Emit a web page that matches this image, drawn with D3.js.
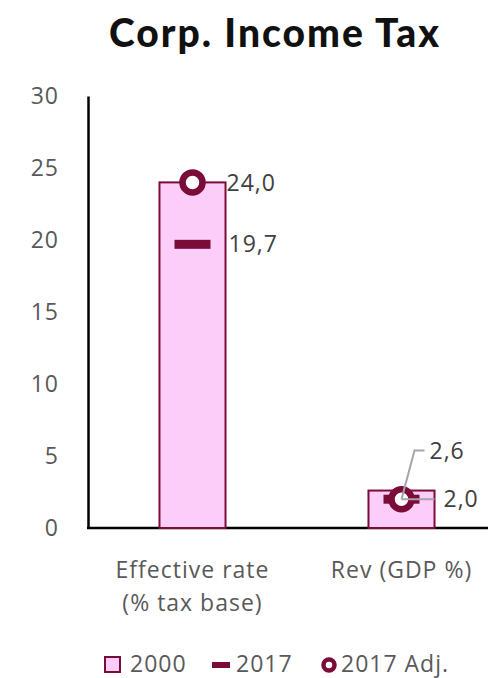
<!DOCTYPE html>
<html>
<head>
<meta charset="utf-8">
<script src="https://cdn.jsdelivr.net/npm/d3@7"></script>
<style>
  html, body { margin: 0; padding: 0; background: #fff; }
  svg { display: block; }
  .tick text, .cat-label, .val-label, .legend text {
    font-family: "Open Sans", Lato, sans-serif; font-size: 23px; letter-spacing: 1px;
  }
  .tick text, .cat-label, .legend text { fill: #595959; }
  .val-label { fill: #404040; }
</style>
</head>
<body>
<div id="chart"></div>
<script>
(function () {
  "use strict";

  // Data
  const categories = [["Effective rate", "(% tax base)"], ["Rev (GDP %)"]];
  const v2000    = [24.0, 2.6];
  const v2017    = [19.7, 2.0];
  const v2017Adj = [24.0, 2.0];
  const yTicks   = [0, 5, 10, 15, 20, 25, 30];
  const seriesNames = ["2000", "2017", "2017 Adj."];

  const W = 488, H = 678;
  const x0 = 88, yBottom = 528, yTop = 96;

  const MAROON = "#7b0c37";
  const PINK = "#fbcdf8";

  const svg = d3.select("#chart").append("svg")
    .attr("width", W).attr("height", H);

  // Scales
  const idx = categories.map((c, i) => i);
  const x = d3.scaleBand()
    .domain(idx)
    .range([x0, x0 + 418])
    .paddingInner(0.684)
    .paddingOuter(0.342);

  const y = d3.scaleLinear().domain([0, 30]).range([yBottom, yTop]);

  // Title
  svg.append("text")
    .attr("x", 275).attr("y", 47)
    .attr("text-anchor", "middle")
    .style("font-family", "Lato, sans-serif")
    .style("font-weight", "900")
    .style("font-size", "39px")
    .style("letter-spacing", "2px")
    .attr("fill", "#111")
    .text("Corp. Income Tax");

  // Y axis
  const yAxis = svg.append("g")
    .attr("transform", `translate(${x0},0)`)
    .call(d3.axisLeft(y).tickValues(yTicks).tickSize(0).tickPadding(29));
  yAxis.select(".domain").attr("stroke", "#000").attr("stroke-width", 2.5);

  // X axis line
  svg.append("line")
    .attr("x1", x0 - 1).attr("x2", W)
    .attr("y1", y(0)).attr("y2", y(0))
    .attr("stroke", "#000").attr("stroke-width", 2.5);

  // Bars (2000)
  svg.selectAll(".bar")
    .data(idx)
    .join("rect")
    .attr("class", "bar")
    .attr("x", i => x(i))
    .attr("width", x.bandwidth())
    .attr("y", i => y(v2000[i]))
    .attr("height", i => y(0) - y(v2000[i]))
    .attr("fill", PINK)
    .attr("stroke", MAROON)
    .attr("stroke-width", 2);

  const cx = i => x(i) + x.bandwidth() / 2;

  // 2017 dashes
  svg.selectAll(".dash")
    .data(idx)
    .join("rect")
    .attr("class", "dash")
    .attr("x", i => cx(i) - 18)
    .attr("y", i => y(v2017[i]) - 4.5)
    .attr("width", 36)
    .attr("height", 9)
    .attr("fill", MAROON);

  // 2017 Adj circles
  svg.selectAll(".adj")
    .data(idx)
    .join("circle")
    .attr("class", "adj")
    .attr("cx", cx)
    .attr("cy", i => y(v2017Adj[i]))
    .attr("r", 10)
    .attr("fill", "#fff")
    .attr("stroke", MAROON)
    .attr("stroke-width", 6.5);

  // Labels, first category: beside the marks
  const fmt = v => v.toFixed(1).replace(".", ",");

  svg.append("text").attr("class", "val-label")
    .attr("x", x(0) + x.bandwidth() + 1).attr("y", y(v2000[0]) + 9)
    .text(fmt(v2000[0]));
  svg.append("text").attr("class", "val-label")
    .attr("x", x(0) + x.bandwidth() + 3).attr("y", y(v2017[0]) + 8)
    .text(fmt(v2017[0]));

  // Labels, second category: with leader lines
  const c2 = cx(1), cy2 = y(v2017Adj[1]);
  const topY = y(v2000[1]) - 40;
  svg.append("polyline")
    .attr("points", `${c2},${cy2} ${c2 + 13},${topY} ${c2 + 23},${topY}`)
    .attr("fill", "none").attr("stroke", "#a6a6a6").attr("stroke-width", 2);
  svg.append("text").attr("class", "val-label")
    .attr("x", c2 + 28).attr("y", topY + 8)
    .text(fmt(v2000[1]));
  svg.append("line")
    .attr("x1", c2).attr("x2", c2 + 33)
    .attr("y1", cy2).attr("y2", cy2)
    .attr("stroke", "#a6a6a6").attr("stroke-width", 2);
  svg.append("text").attr("class", "val-label")
    .attr("x", c2 + 42).attr("y", cy2 + 8)
    .text(fmt(v2017[1]));

  // Category labels
  categories.forEach((lines, i) => {
    const t = svg.append("text").attr("class", "cat-label")
      .attr("text-anchor", "middle")
      .attr("x", cx(i)).attr("y", 578);
    lines.forEach((ln, k) => {
      t.append("tspan").attr("x", cx(i)).attr("dy", k === 0 ? 0 : 33).text(ln);
    });
  });

  // Legend
  const legend = svg.append("g").attr("class", "legend")
    .attr("transform", "translate(0,665)");
  legend.append("rect")
    .attr("x", 105).attr("y", -8).attr("width", 15).attr("height", 15)
    .attr("fill", PINK).attr("stroke", MAROON).attr("stroke-width", 2);
  legend.append("text").attr("x", 130).attr("y", 7).text(seriesNames[0]);
  legend.append("rect")
    .attr("x", 212).attr("y", -3).attr("width", 18).attr("height", 6)
    .attr("fill", MAROON);
  legend.append("text").attr("x", 236).attr("y", 7).text(seriesNames[1]);
  legend.append("circle")
    .attr("cx", 329).attr("cy", 0).attr("r", 5.5)
    .attr("fill", "#fff").attr("stroke", MAROON).attr("stroke-width", 4.5);
  legend.append("text").attr("x", 341).attr("y", 7).text(seriesNames[2]);
})();
</script>
</body>
</html>
